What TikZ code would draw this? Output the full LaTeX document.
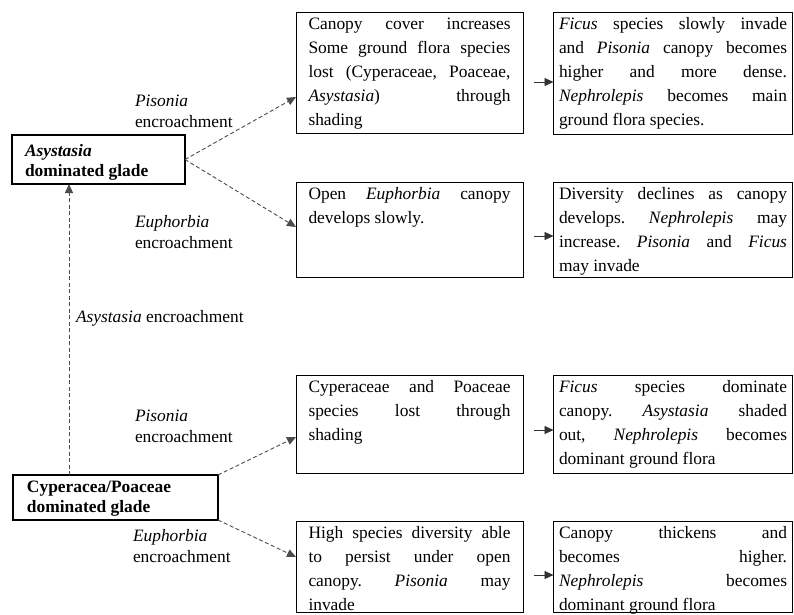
\documentclass[tikz,border=0pt]{standalone}
\usepackage{fontspec}
\setmainfont{Liberation Serif}
\usetikzlibrary{arrows.meta,calc}
\frenchspacing
\newcommand{\jl}[1]{\makebox[\linewidth][s]{#1}\par}
\newcommand{\bxt}[3]{\parbox[c][#2pt][t]{#1pt}{\leavevmode\rule{0pt}{17pt}#3}}
\begin{document}
\begin{tikzpicture}[x=1pt,y=-1pt,
  every node/.style={inner sep=0pt, outer sep=0pt, text=black},
  lbox/.style={draw, line width=1pt, anchor=north west, inner xsep=12.5pt, inner ysep=0pt, font=\fontsize{17.4pt}{24pt}\selectfont},
  rbox/.style={draw, line width=1pt, anchor=north west, inner xsep=5.5pt, inner ysep=0pt, font=\fontsize{17.4pt}{24pt}\selectfont},
  gbox/.style={draw, line width=1.1pt, anchor=north west, inner ysep=0pt, font=\fontsize{17.4pt}{20pt}\selectfont\bfseries},
  lab/.style={anchor=base west, font=\fontsize{17.4pt}{21pt}\selectfont},
  darr/.style={draw=black!70, line width=0.9pt, dash pattern=on 4pt off 2.5pt, -{Triangle[length=9pt,width=8pt]}},
  sarr/.style={draw=black!80, line width=0.8pt, -{Triangle[length=9pt,width=8pt]}, shorten <=11pt},
]
\useasboundingbox (0,0) rectangle (794,614);
\fill[white] (0,0) rectangle (794,614);

% left glade boxes
\node[gbox, inner xsep=13pt] (L1) at (12,135)
  {\parbox[c][49pt][t]{147pt}{\leavevmode\rule{0pt}{21pt}\textit{Asystasia}\par dominated glade}};
\node[gbox, inner xsep=14pt] (L2) at (13,475)
  {\parbox[c][45pt][t]{177pt}{\leavevmode\rule{0pt}{17pt}Cyperacea/Poaceae\par dominated glade}};

% upper boxes
\node[lbox] (A) at (296,12) {\bxt{202}{121}{%
  \jl{Canopy cover increases}\jl{Some ground flora species}\jl{lost (Cyperaceae, Poaceae,}\jl{\textit{Asystasia}) through}shading}};
\node[rbox] (B) at (553.5,12) {\bxt{228}{122}{%
  \jl{\textit{Ficus} species slowly invade}\jl{and \textit{Pisonia} canopy becomes}\jl{higher and more dense.}\jl{\textit{Nephrolepis} becomes main}ground flora species.}};
\node[lbox] (C) at (296,182.5) {\bxt{202}{95}{%
  \jl{Open \textit{Euphorbia} canopy}develops slowly.}};
\node[rbox] (D) at (553.5,182.5) {\bxt{228}{95}{%
  \jl{Diversity declines as canopy}\jl{develops. \textit{Nephrolepis} may}\jl{increase. \textit{Pisonia} and \textit{Ficus}}may invade}};

% lower boxes
\node[lbox] (E) at (296,375.5) {\bxt{202}{97.5}{%
  \jl{Cyperaceae and Poaceae}\jl{species lost through}shading}};
\node[rbox] (F) at (553.5,375.5) {\bxt{228}{97.5}{%
  \jl{\textit{Ficus} species dominate}\jl{canopy. \textit{Asystasia} shaded}\jl{out, \textit{Nephrolepis} becomes}dominant ground flora}};
\node[lbox] (G) at (296,521) {\bxt{202}{91}{%
  \jl{High species diversity able}\jl{to persist under open}\jl{canopy. \textit{Pisonia} may}invade}};
\node[rbox] (H) at (553.5,521) {\bxt{228}{91}{%
  \jl{Canopy thickens and}\jl{becomes higher.}\jl{\textit{Nephrolepis} becomes}dominant ground flora}};

% labels
\node[lab] (p1) at (135,106) {\parbox[t]{130pt}{\textit{Pisonia}\\encroachment}};
\node[lab] (e1) at (135,227) {\parbox[t]{130pt}{\textit{Euphorbia}\\encroachment}};
\node[lab] (a1) at (76,322) {\textit{Asystasia} encroachment};
\node[lab] (p2) at (135,421) {\parbox[t]{130pt}{\textit{Pisonia}\\encroachment}};
\node[lab] (e2) at (133,541) {\parbox[t]{130pt}{\textit{Euphorbia}\\encroachment}};

% connectors
\draw[darr] (L1.east) -- ([yshift=-24.5pt]A.west);
\draw[darr] (L1.east) -- ([yshift=3pt]C.west);
\draw[sarr] ([yshift=-9.5pt]A.east) -- ([yshift=-9.5pt]A.east -| B.west);
\draw[sarr] ([yshift=-6pt]C.east) -- ([yshift=-6pt]C.east -| D.west);
\draw[sarr] ([yshift=-5.75pt]E.east) -- ([yshift=-5.75pt]E.east -| F.west);
\draw[sarr] ([yshift=-8.5pt]G.east) -- ([yshift=-8.5pt]G.east -| H.west);
\draw[darr] (L2.north east) -- ([yshift=-12.75pt]E.west);
\draw[darr] (L2.south east) -- ([yshift=9.5pt]G.west);
\coordinate (vx) at (69,0);
\draw[darr] (L2.north -| vx) -- (L1.south -| vx);
\end{tikzpicture}
\end{document}
